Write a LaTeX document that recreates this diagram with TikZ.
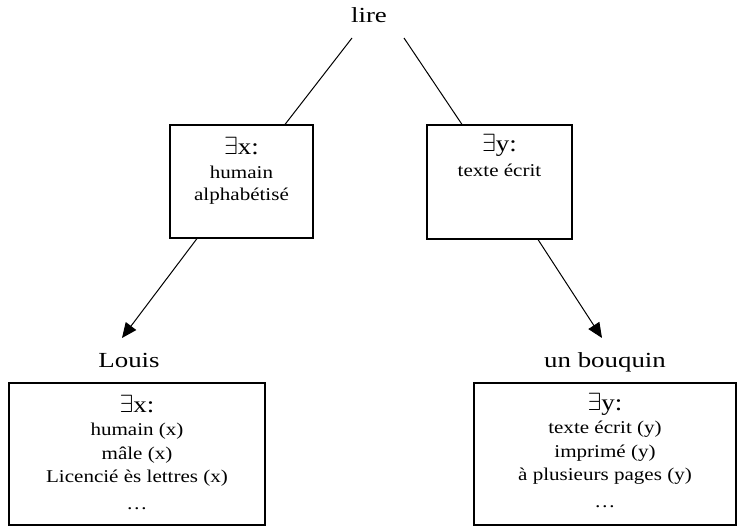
\documentclass[tikz,border=0pt]{standalone}
\usepackage{fontspec}
\setmainfont{Liberation Serif}[FakeStretch=1.25]
\newfontfamily\boxfont{Liberation Serif}[FakeStretch=1.17]
\usetikzlibrary{arrows.meta}

\begin{document}
\begin{tikzpicture}[x=1pt,y=-1pt,
  lbl/.style={inner sep=0pt,font=\fontsize{21.5}{24}\selectfont},
  qbox/.style={draw,line width=1.1pt,inner sep=0pt},
  qtext/.style={anchor=north,inner sep=0pt,align=center},
  link/.style={line width=1pt},
  arr/.style={line width=1pt,-{Triangle[length=15pt,width=13pt]}}]
\useasboundingbox (0,0) rectangle (737,527);

% verbe
\node[lbl,anchor=base] (lire) at (369,23) {lire};

% quantifieurs du haut
\node[qbox,minimum width=143,minimum height=113] (qx) at (241.5,181.5) {};
\node[qbox,minimum width=145,minimum height=114] (qy) at (499.5,182) {};
\node[qtext,font=\boxfont\fontsize{18}{22}\selectfont] (qxtxt) at (241.5,137) {{\fontsize{23}{22}\selectfont$\exists$x:}\\[2pt] humain\\ alphabétisé};
\node[qtext,font=\boxfont\fontsize{18}{22}\selectfont] (qytxt) at (499.5,134) {{\fontsize{23}{22}\selectfont$\exists$y:}\\[3pt] texte écrit};

% arguments
\node[lbl,anchor=base] (louis) at (129,367) {Louis};
\node[lbl,anchor=base] (bouquin) at (605,367) {un bouquin};
\node[qbox,minimum width=256,minimum height=142] (dx) at (137,454) {};
\node[qbox,minimum width=262,minimum height=142] (dy) at (605,454) {};
\node[qtext,font=\boxfont\fontsize{18}{23.5}\selectfont] (dxtxt) at (137,395) {{\fontsize{23}{22}\selectfont$\exists$x:}\\ humain (x)\\ mâle (x)\\ Licencié ès lettres (x)\\[3pt] …};
\node[qtext,font=\boxfont\fontsize{18}{23.5}\selectfont] (dytxt) at (605,393) {{\fontsize{23}{22}\selectfont$\exists$y:}\\ texte écrit (y)\\ imprimé (y)\\ à plusieurs pages (y)\\[3pt] …};

% liens
\draw[link] ([shift={(-17,15)}]lire.base) -- ([xshift=43.5]qx.north);
\draw[link] ([shift={(35,15)}]lire.base) -- ([xshift=-37.5]qy.north);
\draw[arr] ([xshift=-44.5]qx.south) -- ([shift={(-7,-29)}]louis.base);
\draw[arr] ([xshift=38.5]qy.south) -- ([shift={(-3,-29)}]bouquin.base);
\end{tikzpicture}
\end{document}
